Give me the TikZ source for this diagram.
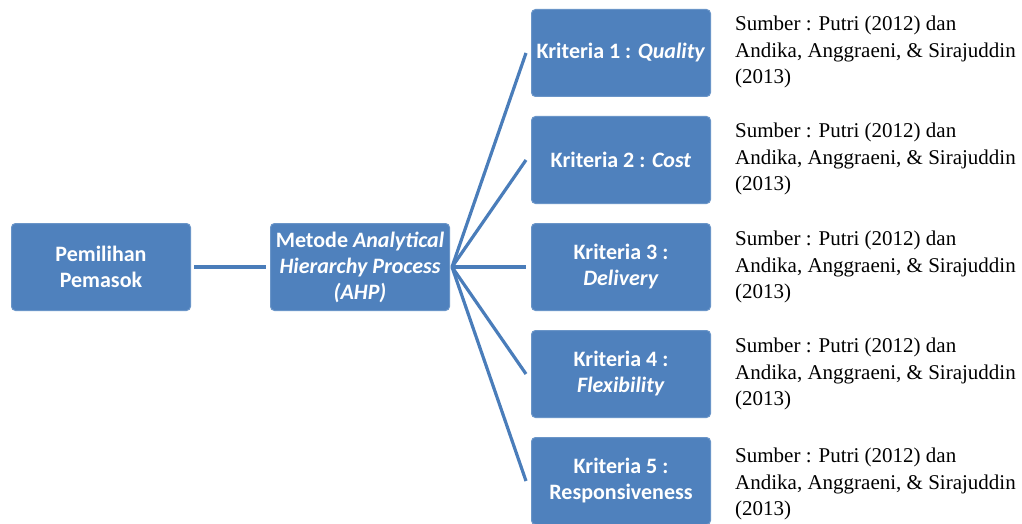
\documentclass[tikz,border=0pt]{standalone}
\usepackage{fontspec}
\setmainfont{Liberation Serif}
\newfontfamily\boxfont{Carlito}
\definecolor{boxfill}{HTML}{4F81BD}
\definecolor{boxedge}{HTML}{6A95C8}
\definecolor{linecol}{HTML}{4A7DBA}
\tikzset{
  blbox/.style={draw=boxedge, line width=1pt, fill=boxfill, rounded corners=4pt,
    minimum width=179pt, minimum height=87pt, inner sep=0pt, text=white,
    font=\boxfont\bfseries\fontsize{22}{26}\selectfont, align=center},
  conn/.style={draw=linecol, line width=3.2pt},
  src/.style={anchor=west, align=left, inner sep=0pt, font=\fontsize{21}{26.8}\selectfont}
}
\begin{document}
\begin{tikzpicture}[x=1pt,y=-1pt]
\useasboundingbox (0,0) rectangle (1022,524);
\node[blbox] (pp) at (101,267) {Pemilihan\\Pemasok};
\node[blbox] (ahp) at (360,267) {Metode \textit{Analytical}\\\textit{Hierarchy Process}\\\textit{(AHP)}};
\node[blbox] (k1) at (621,53) {Kriteria 1 : \textit{Quality}};
\node[blbox] (k2) at (621,160) {Kriteria 2 : \textit{Cost}};
\node[blbox] (k3) at (621,267) {Kriteria 3 :\\\textit{Delivery}};
\node[blbox] (k4) at (621,374) {Kriteria 4 :\\\textit{Flexibility}};
\node[blbox] (k5) at (621,481) {Kriteria 5 :\\Responsiveness};
\coordinate (hub) at ([xshift=2pt]ahp.east);
\draw[conn] ([xshift=3pt]pp.east) -- ([xshift=-4pt]ahp.west);
\foreach \k in {k1,k2,k3,k4,k5}{
  \draw[conn] (hub) -- ([xshift=-5pt]\k.west);
}
\node[src] (s1) at (735,52) {Sumber : Putri (2012) dan\\Andika, Anggraeni, \& Sirajuddin\\(2013)};
\node[src] (s2) at (735,159) {Sumber : Putri (2012) dan\\Andika, Anggraeni, \& Sirajuddin\\(2013)};
\node[src] (s3) at (735,267) {Sumber : Putri (2012) dan\\Andika, Anggraeni, \& Sirajuddin\\(2013)};
\node[src] (s4) at (735,374) {Sumber : Putri (2012) dan\\Andika, Anggraeni, \& Sirajuddin\\(2013)};
\node[src] (s5) at (735,484) {Sumber : Putri (2012) dan\\Andika, Anggraeni, \& Sirajuddin\\(2013)};
\end{tikzpicture}
\end{document}
